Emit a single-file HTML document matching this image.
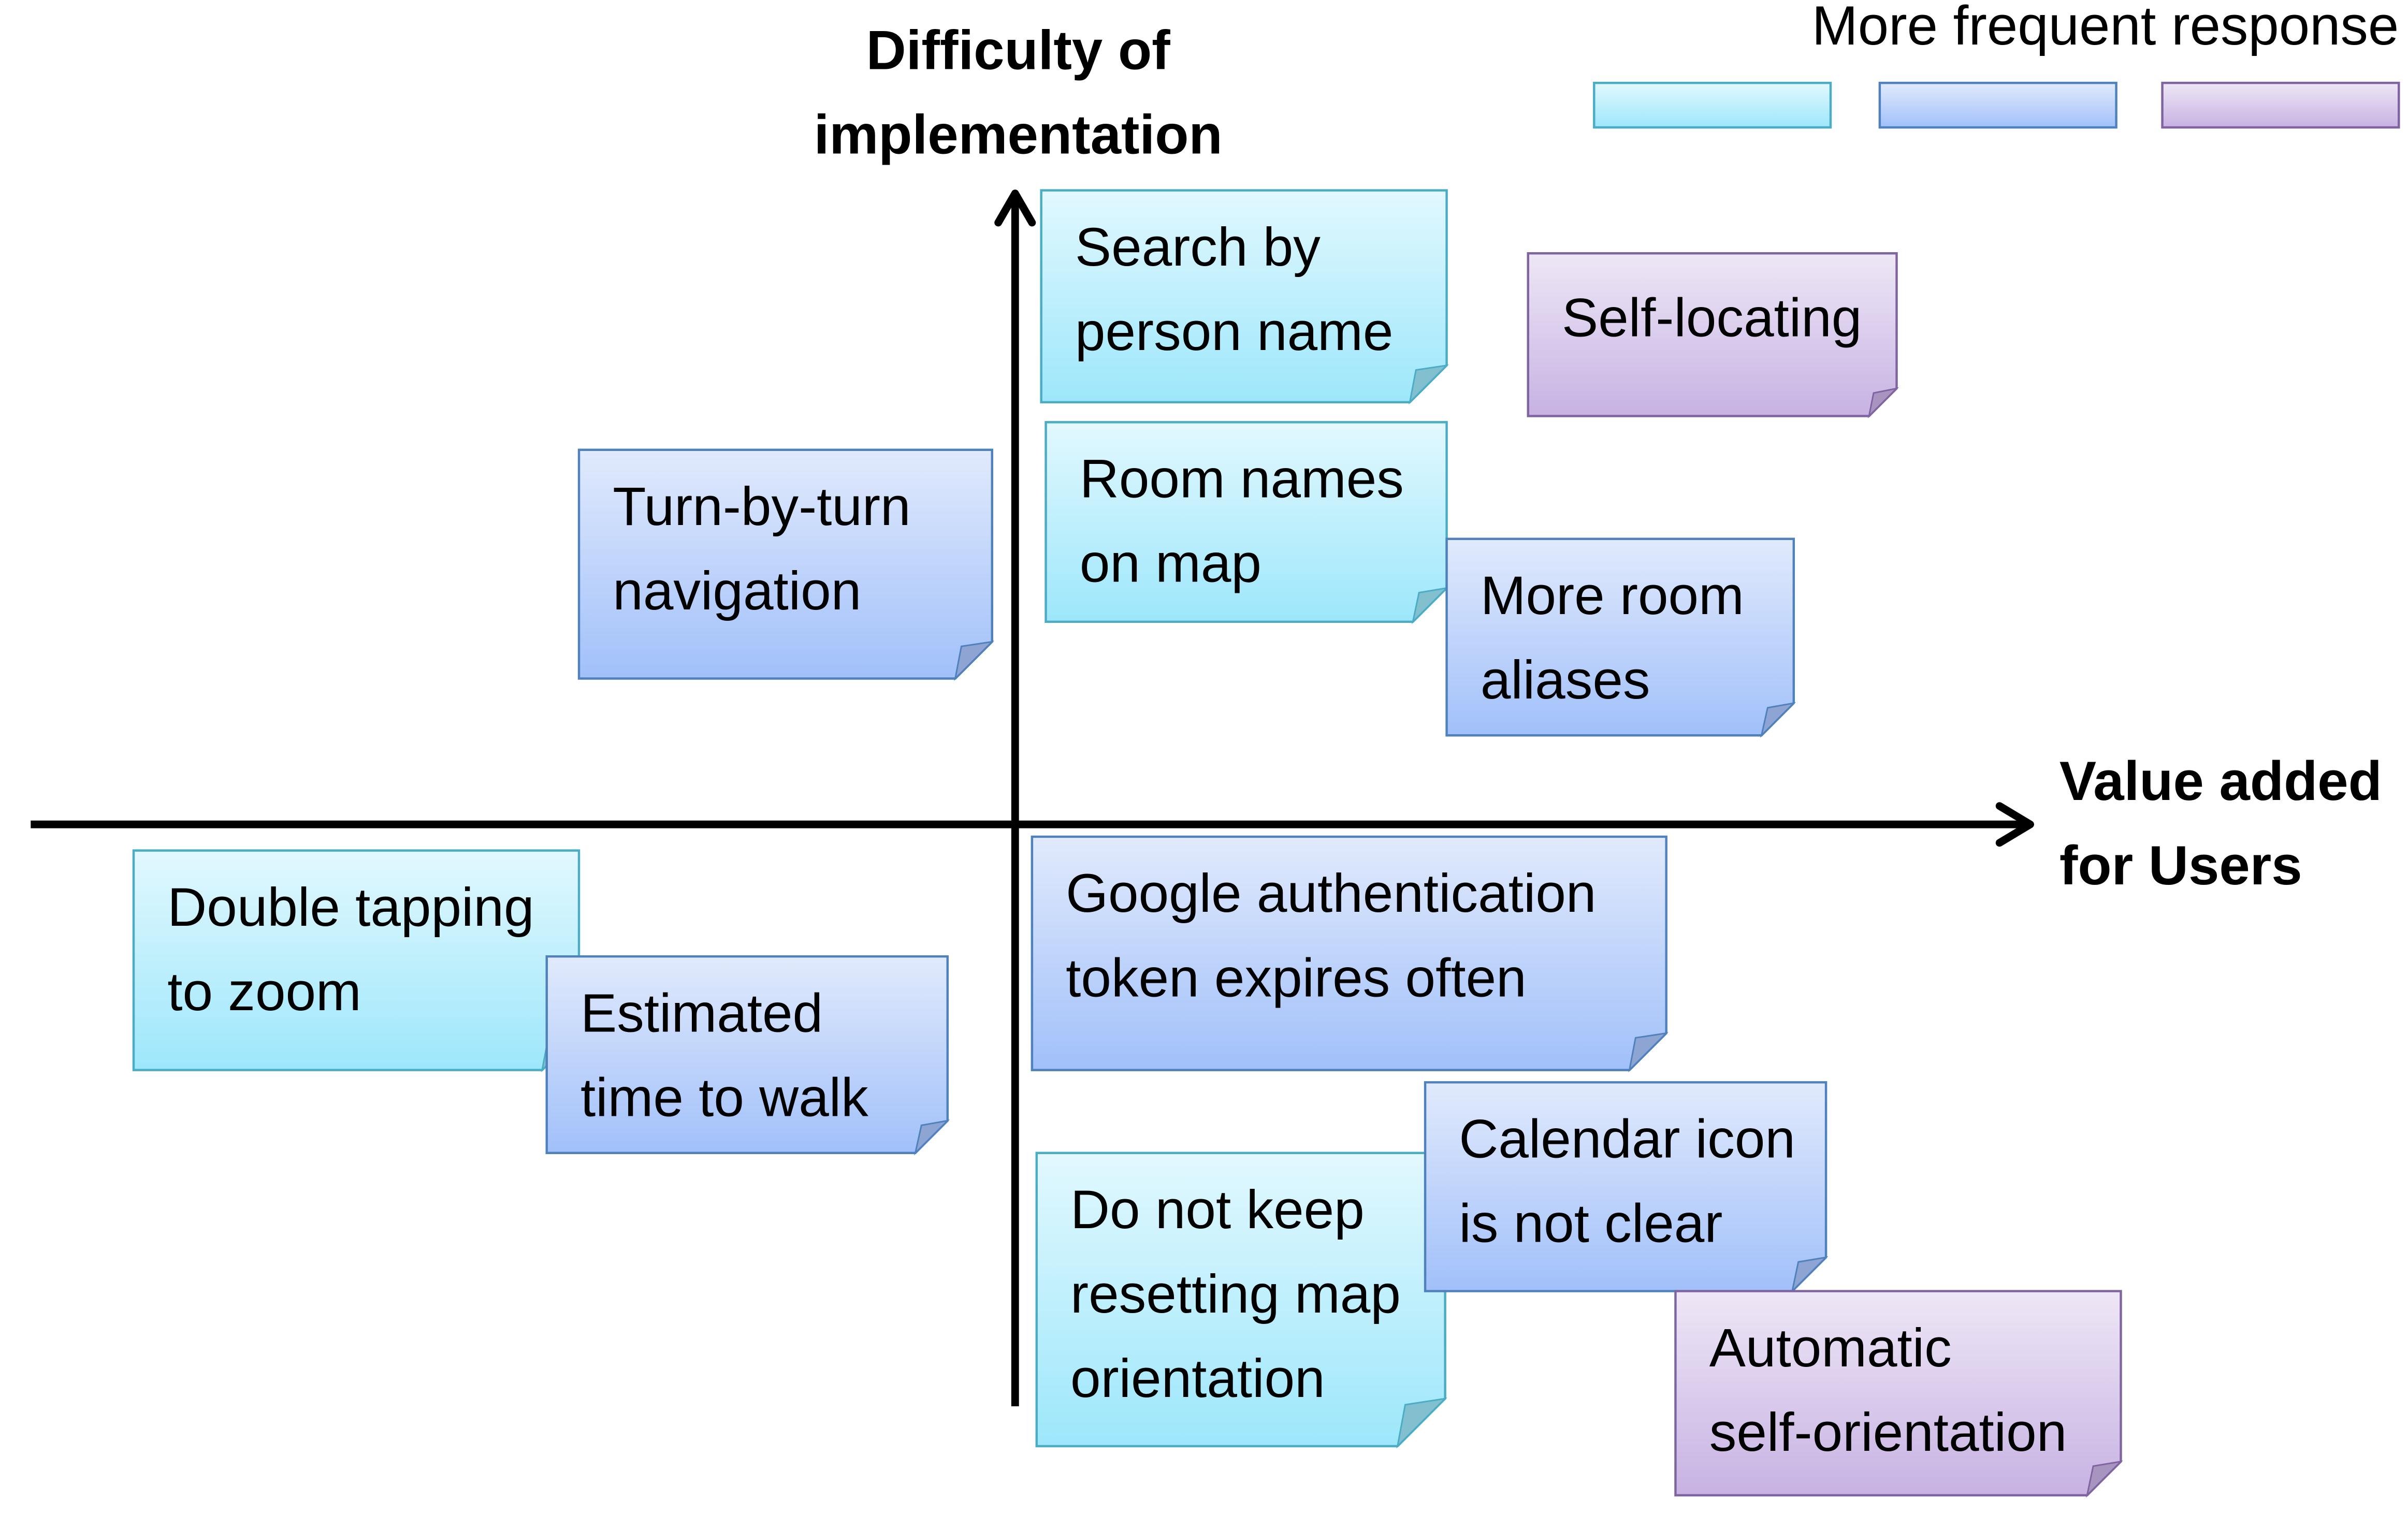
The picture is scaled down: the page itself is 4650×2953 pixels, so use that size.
<!DOCTYPE html>
<html><head><meta charset="utf-8">
<style>
html,body{margin:0;padding:0;background:#fff;}
body{width:4650px;height:2953px;overflow:hidden;position:relative;}
#s{position:absolute;left:0;top:0;width:1568px;height:996px;transform:scale(2.9656,2.965);transform-origin:0 0;font-family:"Liberation Sans",sans-serif;}
.n{position:absolute;}
.n svg{position:absolute;left:0;top:0;overflow:visible;}
.t{position:absolute;left:22px;font-size:35.5px;line-height:55px;color:#000;white-space:nowrap;margin-top:2px;}
.b{position:absolute;font-weight:bold;font-size:36px;line-height:55px;white-space:nowrap;}
</style></head><body>
<div id="s">
<svg width="1568" height="996" style="position:absolute;left:0;top:0">
<defs>
<linearGradient id="gc" x1="0" y1="0" x2="0" y2="1"><stop offset="0" stop-color="#e2f8fe"/><stop offset="1" stop-color="#9de7fb"/></linearGradient>
<linearGradient id="gb" x1="0" y1="0" x2="0" y2="1"><stop offset="0" stop-color="#e1eafc"/><stop offset="1" stop-color="#a1c0fa"/></linearGradient>
<linearGradient id="gp" x1="0" y1="0" x2="0" y2="1"><stop offset="0" stop-color="#eee7f6"/><stop offset="1" stop-color="#c7b2e3"/></linearGradient>
</defs>
<rect x="1038" y="54" width="154" height="29" fill="url(#gc)" stroke="#4bacc6" stroke-width="1.5"/>
<rect x="1224" y="54" width="154" height="29" fill="url(#gb)" stroke="#4f81bd" stroke-width="1.5"/>
<rect x="1408" y="54" width="154" height="29" fill="url(#gp)" stroke="#8064a2" stroke-width="1.5"/>
<line x1="20" y1="537" x2="1318" y2="537" stroke="#000" stroke-width="5"/>
<polyline points="1302,525 1322,537 1302,549" fill="none" stroke="#000" stroke-width="5" stroke-linecap="round" stroke-linejoin="round"/>
<line x1="661" y1="916" x2="661" y2="130" stroke="#000" stroke-width="5"/>
<polyline points="650,145 661,126 672,145" fill="none" stroke="#000" stroke-width="5" stroke-linecap="round" stroke-linejoin="round"/>
</svg>
<div class="b" style="left:528px;top:5px;width:270px;text-align:center">Difficulty of<br>implementation</div>
<div class="b" style="left:1341px;top:481px">Value added<br>for Users</div>
<div style="position:absolute;right:6px;top:-8px;font-size:36px;line-height:50px;white-space:nowrap">More frequent response</div>

<div class="n" style="left:678px;top:124px;width:264px;height:138px"><svg width="264" height="138"><polygon points="0,0 264,0 264,114 240,138 0,138" fill="url(#gc)" stroke="#4bacc6" stroke-width="1.5"/><polygon points="240,138 244,117 264,114" fill="#82bfcf" stroke="#4bacc6" stroke-width="1"/></svg><div class="t" style="top:8px">Search by<br>person name</div></div>

<div class="n" style="left:995px;top:165px;width:240px;height:106px"><svg width="240" height="106"><polygon points="0,0 240,0 240,88 222,106 0,106" fill="url(#gp)" stroke="#8064a2" stroke-width="1.5"/><polygon points="222,106 225,91 240,88" fill="#a795c0" stroke="#8064a2" stroke-width="1"/></svg><div class="t" style="top:13px">Self-locating</div></div>

<div class="n" style="left:377px;top:293px;width:269px;height:149px"><svg width="269" height="149"><polygon points="0,0 269,0 269,125 245,149 0,149" fill="url(#gb)" stroke="#4f81bd" stroke-width="1.5"/><polygon points="245,149 249,128 269,125" fill="#8ea5d3" stroke="#4f81bd" stroke-width="1"/></svg><div class="t" style="top:8px">Turn-by-turn<br>navigation</div></div>

<div class="n" style="left:681px;top:275px;width:261px;height:130px"><svg width="261" height="130"><polygon points="0,0 261,0 261,108 239,130 0,130" fill="url(#gc)" stroke="#4bacc6" stroke-width="1.5"/><polygon points="239,130 243,111 261,108" fill="#82bfcf" stroke="#4bacc6" stroke-width="1"/></svg><div class="t" style="top:8px">Room names<br>on map</div></div>

<div class="n" style="left:942px;top:351px;width:226px;height:128px"><svg width="226" height="128"><polygon points="0,0 226,0 226,107 205,128 0,128" fill="url(#gb)" stroke="#4f81bd" stroke-width="1.5"/><polygon points="205,128 209,110 226,107" fill="#8ea5d3" stroke="#4f81bd" stroke-width="1"/></svg><div class="t" style="top:8px">More room<br>aliases</div></div>

<div class="n" style="left:87px;top:554px;width:290px;height:143px"><svg width="290" height="143"><polygon points="0,0 290,0 290,119 266,143 0,143" fill="url(#gc)" stroke="#4bacc6" stroke-width="1.5"/><polygon points="266,143 270,122 290,119" fill="#82bfcf" stroke="#4bacc6" stroke-width="1"/></svg><div class="t" style="top:8px">Double tapping<br>to zoom</div></div>

<div class="n" style="left:356px;top:623px;width:261px;height:128px"><svg width="261" height="128"><polygon points="0,0 261,0 261,107 240,128 0,128" fill="url(#gb)" stroke="#4f81bd" stroke-width="1.5"/><polygon points="240,128 244,110 261,107" fill="#8ea5d3" stroke="#4f81bd" stroke-width="1"/></svg><div class="t" style="top:8px">Estimated<br>time to walk</div></div>

<div class="n" style="left:672px;top:545px;width:413px;height:152px"><svg width="413" height="152"><polygon points="0,0 413,0 413,128 389,152 0,152" fill="url(#gb)" stroke="#4f81bd" stroke-width="1.5"/><polygon points="389,152 393,131 413,128" fill="#8ea5d3" stroke="#4f81bd" stroke-width="1"/></svg><div class="t" style="top:8px">Google authentication<br>token expires often</div></div>

<div class="n" style="left:675px;top:751px;width:266px;height:191px"><svg width="266" height="191"><polygon points="0,0 266,0 266,160 235,191 0,191" fill="url(#gc)" stroke="#4bacc6" stroke-width="1.5"/><polygon points="235,191 240,164 266,160" fill="#82bfcf" stroke="#4bacc6" stroke-width="1"/></svg><div class="t" style="top:8px">Do not keep<br>resetting map<br>orientation</div></div>

<div class="n" style="left:928px;top:705px;width:261px;height:136px"><svg width="261" height="136"><polygon points="0,0 261,0 261,114 239,136 0,136" fill="url(#gb)" stroke="#4f81bd" stroke-width="1.5"/><polygon points="239,136 243,117 261,114" fill="#8ea5d3" stroke="#4f81bd" stroke-width="1"/></svg><div class="t" style="top:8px">Calendar icon<br>is not clear</div></div>

<div class="n" style="left:1091px;top:841px;width:290px;height:133px"><svg width="290" height="133"><polygon points="0,0 290,0 290,111 268,133 0,133" fill="url(#gp)" stroke="#8064a2" stroke-width="1.5"/><polygon points="268,133 272,114 290,111" fill="#a795c0" stroke="#8064a2" stroke-width="1"/></svg><div class="t" style="top:8px">Automatic<br>self-orientation</div></div>
</div>
</body></html>
